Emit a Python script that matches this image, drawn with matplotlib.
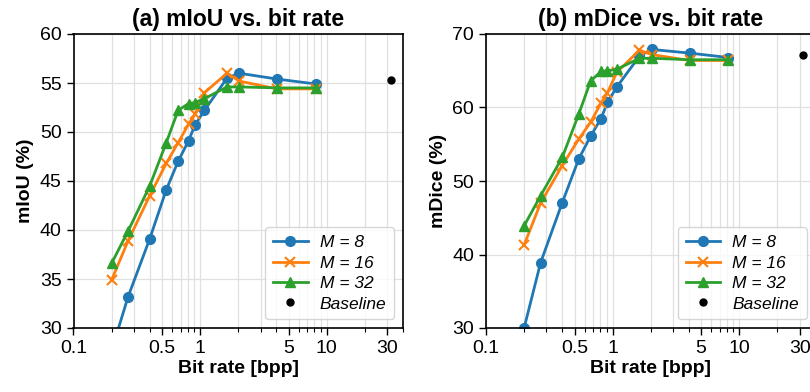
import matplotlib
matplotlib.use("Agg")
import matplotlib.pyplot as plt
from matplotlib.ticker import FixedLocator, NullFormatter, LogLocator

plt.rcParams['font.family'] = ['Liberation Sans', 'DejaVu Sans']

bitrate = [0.2, 0.27, 0.4, 0.54, 0.67, 0.81, 0.91, 1.08, 1.63, 2.03, 4.06, 8.2]

miou_m8 = [27.7, 33.2, 39.1, 44.1, 47.0, 49.1, 50.7, 52.2, 55.5, 56.0, 55.4, 54.9]
miou_m16 = [34.9, 38.9, 43.5, 46.8, 48.9, 50.8, 51.8, 54.0, 56.0, 55.2, 54.4, 54.4]
miou_m32 = [36.6, 39.9, 44.5, 48.9, 52.2, 52.9, 53.0, 53.4, 54.6, 54.6, 54.5, 54.5]

mdice_m8 = [30.0, 38.9, 47.05, 53.0, 56.1, 58.5, 60.7, 62.8, 67.0, 67.9, 67.4, 66.8]
mdice_m16 = [41.3, 47.0, 52.1, 55.7, 58.0, 60.6, 62.0, 64.8, 67.8, 67.2, 66.4, 66.4]
mdice_m32 = [43.9, 48.0, 53.2, 59.1, 63.6, 64.9, 65.0, 65.2, 66.7, 66.7, 66.5, 66.5]

baseline_x = 32
baseline_miou = 55.3
baseline_mdice = 67.2

labels = ['M = 8', 'M = 16', 'M = 32', 'Baseline']
xtick_vals = [0.1, 0.5, 1, 5, 10, 30]
xtick_labels = ['0.1', '0.5', '1', '5', '10', '30']

W, H = 810, 392
fig = plt.figure(figsize=(W / 100, H / 100), dpi=100)
ax1 = fig.add_axes([73.5 / W, 1 - 328 / H, 329.5 / W, 294 / H])
ax2 = fig.add_axes([486 / W, 1 - 328 / H, 329.5 / W, 294 / H])

colors = ['#1f77b4', '#ff7f0e', '#2ca02c']
markers = ['o', 'x', '^']

def setup(ax, series, base, title, ylabel, ylim, yticks):
    for s, c, m, lab in zip(series, colors, markers, labels[:3]):
        ax.plot(bitrate, s, color=c, marker=m, lw=2, ms=7,
                mew=1.5 if m == 'x' else 1, label=lab)
    ax.plot([baseline_x], [base], 'o', color='black', ms=5, ls='none', label=labels[3])
    ax.set_xscale('log')
    ax.set_xlim(0.1, 40)
    ax.set_ylim(*ylim)
    ax.set_yticks(yticks)
    ax.xaxis.set_major_locator(FixedLocator(xtick_vals))
    ax.set_xticklabels(xtick_labels)
    ax.xaxis.set_minor_locator(LogLocator(base=10, subs=range(1, 10), numticks=20))
    ax.xaxis.set_minor_formatter(NullFormatter())
    ax.grid(True, which='both', color='#e0e0e0', lw=0.9)
    ax.set_axisbelow(True)
    ax.tick_params(axis='both', which='major', labelsize=14, length=5, width=1)
    ax.tick_params(axis='x', which='minor', length=3, width=0.8)
    for sp in ax.spines.values():
        sp.set_linewidth(1.2)
    ax.set_title(title, fontsize=16.5, fontweight='bold', pad=6)
    ax.set_xlabel('Bit rate [bpp]', fontsize=14, fontweight='bold', labelpad=2)
    ax.set_ylabel(ylabel, fontsize=14, fontweight='bold')
    ax.legend(loc='lower right', prop={'style': 'italic', 'size': 12.5},
              handlelength=2.0, borderpad=0.45, labelspacing=0.3, handletextpad=0.7)

setup(ax1, [miou_m8, miou_m16, miou_m32], baseline_miou,
      '(a) mIoU vs. bit rate', 'mIoU (%)', (30, 60), [30, 35, 40, 45, 50, 55, 60])
setup(ax2, [mdice_m8, mdice_m16, mdice_m32], baseline_mdice,
      '(b) mDice vs. bit rate', 'mDice (%)', (30, 70), [30, 40, 50, 60, 70])

fig.savefig('out.png', dpi=100)
